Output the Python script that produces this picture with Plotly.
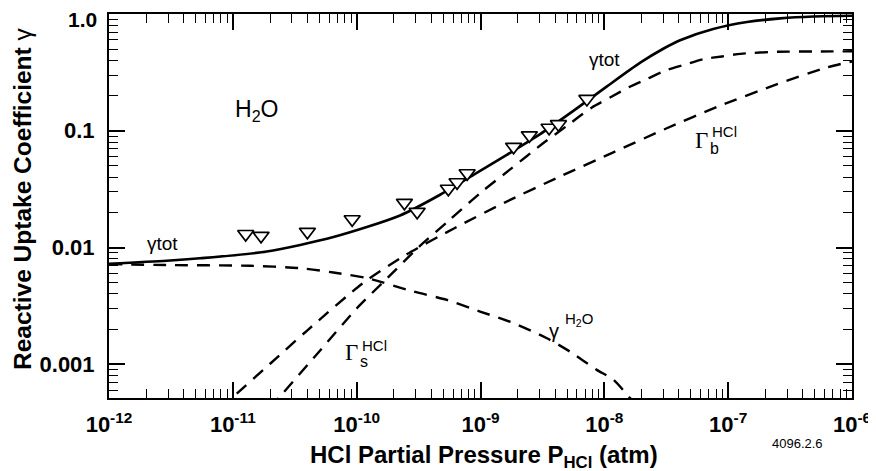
import plotly.graph_objects as go

# ---- data ----
meas_p = [1.27e-11, 1.69e-11, 4.0e-11, 9.2e-11, 2.43e-10, 3.08e-10, 5.5e-10,
          6.47e-10, 7.8e-10, 1.85e-9, 2.48e-9, 3.58e-9, 4.26e-9, 7.23e-9]
meas_g = [0.01305, 0.01259, 0.01363, 0.01746, 0.02415, 0.02022, 0.03185,
          0.03622, 0.04326, 0.0729, 0.0914, 0.1061, 0.1138, 0.1873]

tot_p = [1e-12, 2.92e-12, 5.43e-12, 1.88e-11, 6.49e-11, 2.24e-10, 4.72e-10,
         8.77e-10, 1.63e-9, 3.03e-9, 5.62e-9, 1.05e-8, 1.95e-8,
         2.99e-8, 4.09e-8, 7.57e-8, 1.42e-7, 2.63e-7, 4.86e-7, 1e-6]
tot_g = [0.00725, 0.00769, 0.00808, 0.00924, 0.01228, 0.0188, 0.0283,
         0.0418, 0.0622, 0.0936, 0.148, 0.240, 0.383,
         0.504, 0.596, 0.743, 0.853, 0.918, 0.953, 0.966]

h2o_p = [1e-12, 2.92e-12, 1.38e-11, 3.49e-11, 6.49e-11, 1.21e-10, 2.87e-10,
         5.35e-10, 9.93e-10, 1.85e-9, 3.44e-9, 5.30e-9, 8.69e-9, 1.19e-8,
         1.61e-8, 1.9e-8]
h2o_g = [0.00720, 0.00708, 0.00697, 0.00666, 0.00611, 0.00547, 0.0042,
         0.00356, 0.00283, 0.00225, 0.00167, 0.00128, 0.000895, 0.000735,
         0.000515, 0.00043]

gb_p = [7.94e-12, 1.01e-11, 2.0e-11, 3.98e-11, 1.12e-10, 2.51e-10, 6.31e-10,
        1.58e-9, 4.37e-9, 1.17e-8, 3.16e-8, 8.51e-8, 2.34e-7, 6.31e-7, 1e-6]
gb_g = [0.00042, 0.000528, 0.00101, 0.001945, 0.00494, 0.00869, 0.01483,
        0.02438, 0.0405, 0.0650, 0.1045, 0.163, 0.2446, 0.3494, 0.392]

gs_p = [1.995e-11, 2.40e-11, 5.01e-11, 1e-10, 1.778e-10, 3.162e-10, 5.623e-10,
        1e-9, 1.778e-9, 3.162e-9, 5.012e-9, 7.943e-9, 1.122e-8, 1.585e-8,
        2.239e-8, 3.162e-8, 4.467e-8, 6.31e-8, 8.913e-8, 1.259e-7, 2.512e-7,
        5.012e-7, 1e-6]
gs_g = [0.00042, 0.000528, 0.001294, 0.003006, 0.0055, 0.01007, 0.0172,
        0.0294, 0.0476, 0.0773, 0.1107, 0.1585, 0.1936, 0.2366,
        0.2793, 0.3296, 0.368, 0.411, 0.433, 0.456, 0.475,
        0.477, 0.479]

x_major = [1e-12, 1e-11, 1e-10, 1e-9, 1e-8, 1e-7, 1e-6]
x_labels = ["10<sup>-12</sup>", "10<sup>-11</sup>", "10<sup>-10</sup>", "10<sup>-9</sup>",
            "10<sup>-8</sup>", "10<sup>-7</sup>", "10<sup>-6</sup>"]
y_major = [0.001, 0.01, 0.1, 1.0]
y_labels = ["0.001", "0.01", "0.1", "1.0"]
x_minor = [m * d for d in x_major[:-1] for m in range(2, 10)]
y_minor = [m * d for d in [0.0001, 0.001, 0.01, 0.1] for m in range(2, 10)]

SANS = "Liberation Sans"
SERIF = "Liberation Serif"
DASH = "13px,9px"

fig = go.Figure()
for px_, py_ in [(h2o_p, h2o_g), (gb_p, gb_g), (gs_p, gs_g)]:
    fig.add_trace(go.Scatter(x=px_, y=py_, mode="lines",
                             line=dict(color="black", width=2.4, dash=DASH,
                                       shape="spline", smoothing=0.7)))
fig.add_trace(go.Scatter(x=tot_p, y=tot_g, mode="lines",
                         line=dict(color="black", width=2.6, shape="spline", smoothing=0.7)))
fig.add_trace(go.Scatter(x=meas_p, y=meas_g, mode="markers",
                         marker=dict(symbol="triangle-down", size=14, color="white",
                                     line=dict(color="black", width=1.7))))

# plot-area position on screen (page body has an 8px margin)
OFF = 8
L, T, W, H = 109, 14, 743, 384
FW, FH = 876 - OFF, 471 - OFF


def px(xp, yp):
    return (xp - L) / W, (T + H - yp) / H


def ann(text, xp, yp, size, family=SANS, xanchor="center", **kw):
    x, y = px(xp, yp)
    fig.add_annotation(text=text, x=x, y=y, xref="paper", yref="paper", showarrow=False,
                       xanchor=xanchor, yanchor="middle",
                       font=dict(family=family, size=size, color="black"), **kw)


ann("H<sub>2</sub>O", 256, 110, 23)
ann("γtot", 604, 60, 19)
ann("γtot", 162, 244, 19)
ann("Γ", 701, 140, 23, SERIF)
ann("HCl", 724, 132, 15)
ann("b", 714, 148, 16)
ann("Γ", 351, 352, 23, SERIF)
ann("HCl", 374, 345, 15)
ann("s", 364, 361, 16)
ann("γ", 554, 331, 20)
ann("H<sub>2</sub>O", 579, 319, 15)
ann("4096.2.6", 797, 443, 13)
ann("<b>HCl Partial Pressure P<sub>HCl</sub> (atm)</b>", 484, 456, 24)
ann("<b>Reactive Uptake Coefficient </b>γ", 22, 199, 24.5, textangle=-90)
# top y tick label drawn slightly lower, as in the reference
ann("<b>" + y_labels[-1] + "</b>", 99, 19.5, 21, xanchor="right")
y_ticktext = y_labels[:-1] + [""]

axis_common = dict(showgrid=False, zeroline=False, showline=True, linecolor="black",
                   linewidth=2, mirror="ticks", ticks="inside", tickcolor="black",
                   tickwidth=1.6, ticklen=16, automargin=False, ticklabeloverflow="allow")

fig.update_xaxes(type="log", range=[-12, -6], tickmode="array", tickvals=x_major,
                 ticktext=x_labels, ticklabelstandoff=6,
                 tickfont=dict(family=SANS, size=22, color="black", weight="bold"),
                 minor=dict(tickmode="array", tickvals=x_minor, ticks="inside", ticklen=9,
                            tickwidth=1.4, tickcolor="black", showgrid=False),
                 **axis_common)
fig.update_yaxes(type="log", range=[-3.289, 0], tickmode="array", tickvals=y_major,
                 ticktext=y_ticktext, ticklabelstandoff=8,
                 tickfont=dict(family=SANS, size=22, color="black", weight="bold"),
                 minor=dict(tickmode="array", tickvals=y_minor, ticks="inside", ticklen=9,
                            tickwidth=1.4, tickcolor="black", showgrid=False),
                 **axis_common)

fig.update_layout(width=FW, height=FH, showlegend=False,
                  margin=dict(l=L - OFF, r=FW - (L - OFF) - W, t=T - OFF,
                              b=FH - (T - OFF) - H, autoexpand=False),
                  plot_bgcolor="white", paper_bgcolor="white")

fig.write_html("out.html")
